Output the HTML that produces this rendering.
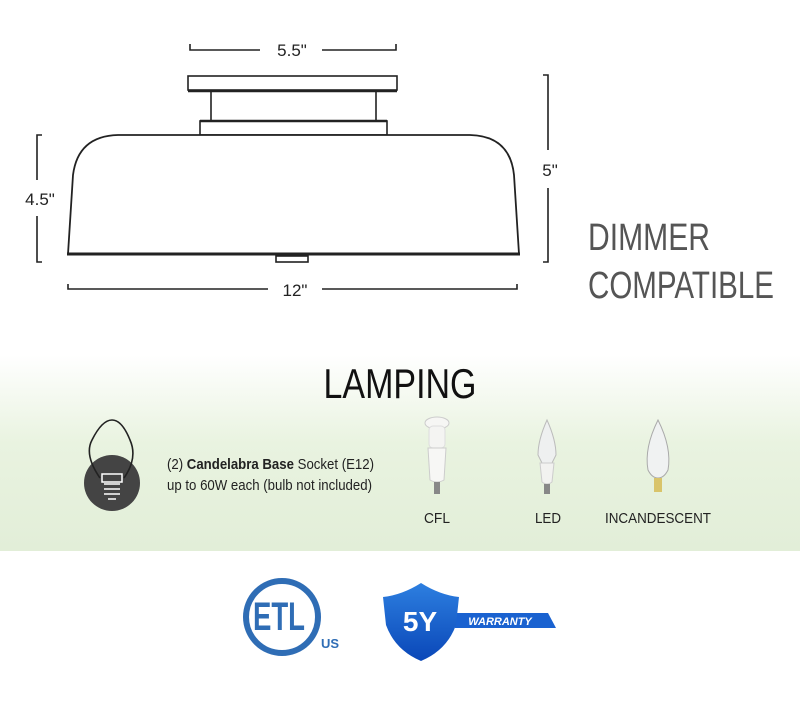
<!DOCTYPE html>
<html><head><meta charset="utf-8"><style>
html,body{margin:0;padding:0;background:#fff}
svg{display:block}
text{font-family:"Liberation Sans",sans-serif}
</style></head><body>
<svg width="800" height="727" viewBox="0 0 800 727" xmlns="http://www.w3.org/2000/svg">
<defs>
<linearGradient id="g" x1="0" y1="0" x2="0" y2="1">
<stop offset="0" stop-color="#fff"/><stop offset="0.45" stop-color="#e9f3e0"/><stop offset="1" stop-color="#e2eed8"/>
</linearGradient>
<linearGradient id="sh" x1="0" y1="0" x2="0" y2="1">
<stop offset="0" stop-color="#2d7fe0"/><stop offset="1" stop-color="#0a47b8"/>
</linearGradient>
</defs>
<rect x="0" y="355" width="800" height="196" fill="url(#g)"/>
<g fill="none" stroke="#222" stroke-width="1.6">
<rect x="188" y="76" width="209" height="14" fill="#fff"/>
<line x1="188" y1="91" x2="397" y2="91" stroke-width="2.5"/>
<line x1="211" y1="91" x2="211" y2="120"/><line x1="376" y1="91" x2="376" y2="120"/>
<rect x="200" y="121" width="187" height="14" fill="#fff"/>
<line x1="200" y1="121" x2="387" y2="121" stroke-width="2.5"/>
<path d="M68 254 L73 175 Q78 136 118 135 L470 135 Q510 136 514 175 L519 254 Z" fill="#fff" stroke-width="1.8"/>
<line x1="67" y1="254" x2="520" y2="254" stroke-width="3"/>
<rect x="276" y="256" width="32" height="6" fill="#fff"/>
<path d="M190 44 V50 H260 M322 50 H396 V44"/>
<path d="M42 135 H37 V180 M37 216 V262 H42"/>
<path d="M543 75 H548 V150 M548 188 V262 H543"/>
<path d="M68 284 V289 H268 M322 289 H517 V284"/>
</g>
<text x="292" y="56" font-size="17" fill="#222" text-anchor="middle">5.5"</text>
<text x="40" y="205" font-size="17" fill="#222" text-anchor="middle">4.5"</text>
<text x="550" y="176" font-size="17" fill="#222" text-anchor="middle">5"</text>
<text x="295" y="296" font-size="17" fill="#222" text-anchor="middle">12"</text>
<text x="588" y="250" font-size="38" fill="#555" textLength="122" lengthAdjust="spacingAndGlyphs">DIMMER</text>
<text x="588" y="298" font-size="38" fill="#555" textLength="186" lengthAdjust="spacingAndGlyphs">COMPATIBLE</text>
<text x="400" y="398" font-size="42" fill="#111" text-anchor="middle" textLength="153" lengthAdjust="spacingAndGlyphs">LAMPING</text>
<circle cx="112" cy="483" r="28" fill="#444"/>
<path d="M100 478 Q84 455 92 440 Q102 420 112 420 Q122 420 130 440 Q138 458 124 478" fill="none" stroke="#222" stroke-width="1.6"/>
<g stroke="#fff" stroke-width="1.5" fill="none">
<rect x="102" y="474" width="20" height="8"/><path d="M104 484 H120 M104 489 H120 M104 494 H120 M108 499 H116"/>
</g>
<text x="167" y="469" font-size="15" fill="#222" textLength="207" lengthAdjust="spacingAndGlyphs">(2) <tspan font-weight="bold">Candelabra Base</tspan> Socket (E12)</text>
<text x="167" y="490" font-size="15" fill="#222" textLength="205" lengthAdjust="spacingAndGlyphs">up to 60W each (bulb not included)</text>
<g>
<ellipse cx="437" cy="423" rx="12" ry="6" fill="#f6f6f4" stroke="#ccc"/>
<rect x="429" y="426" width="16" height="22" rx="4" fill="#f4f4f2" stroke="#ddd"/>
<path d="M428 448 H446 L444 480 Q437 484 430 480 Z" fill="#f7f7f5" stroke="#ccc"/>
<rect x="434" y="482" width="6" height="12" fill="#888"/>
<path d="M547 420 Q556 440 556 455 L552 463 H542 L538 455 Q538 440 547 420 Z" fill="#eef0f0" stroke="#bbb"/>
<path d="M540 463 H554 L552 482 Q547 486 542 482 Z" fill="#f2f2f0" stroke="#ccc"/>
<rect x="544" y="484" width="6" height="10" fill="#888"/>
<path d="M658 420 Q672 448 668 470 Q664 478 658 478 Q652 478 648 470 Q644 448 658 420 Z" fill="#f0f2f2" stroke="#aaa"/>
<rect x="654" y="478" width="8" height="14" fill="#d9c46a"/>
</g>
<text x="437" y="523" font-size="15" fill="#222" text-anchor="middle" textLength="26" lengthAdjust="spacingAndGlyphs">CFL</text>
<text x="548" y="523" font-size="15" fill="#222" text-anchor="middle" textLength="26" lengthAdjust="spacingAndGlyphs">LED</text>
<text x="658" y="523" font-size="15" fill="#222" text-anchor="middle" textLength="106" lengthAdjust="spacingAndGlyphs">INCANDESCENT</text>
<circle cx="282" cy="617" r="36" fill="none" stroke="#2f6db5" stroke-width="6"/>
<text x="279" y="630" font-size="40" font-weight="bold" fill="#2f6db5" text-anchor="middle" textLength="52" lengthAdjust="spacingAndGlyphs">ETL</text>
<text x="330" y="648" font-size="13" font-weight="bold" fill="#2f6db5" text-anchor="middle">US</text>
<path d="M455 613 H548 L556 628 H455 Z" fill="#1a62d0"/>
<text x="500" y="625" font-size="11" font-weight="bold" font-style="italic" fill="#fff" text-anchor="middle">WARRANTY</text>
<path d="M421 583 Q402 595 383 597 L386 625 Q395 650 421 661 Q447 650 456 625 L459 597 Q440 595 421 583 Z" fill="url(#sh)"/>
<text x="420" y="631" font-size="28" font-weight="bold" fill="#fff" text-anchor="middle">5Y</text>
</svg>
</body></html>
